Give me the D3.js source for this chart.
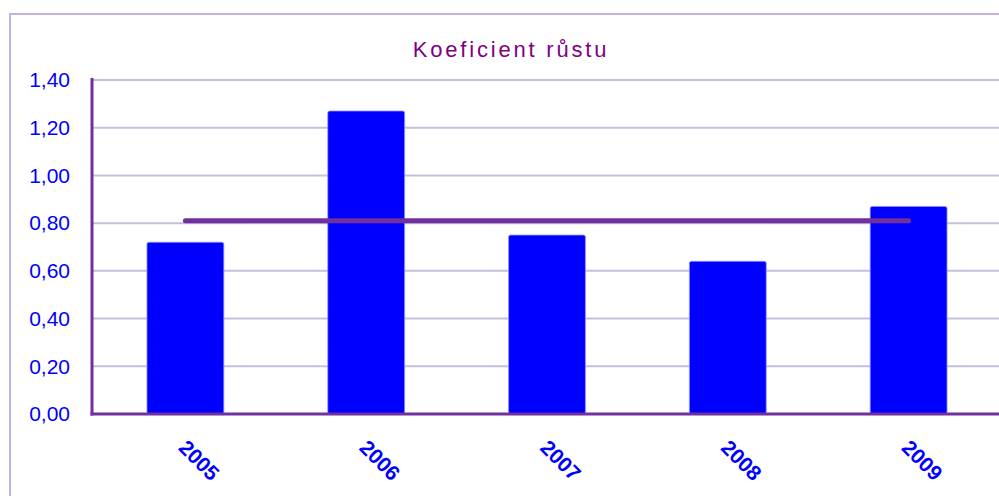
<!DOCTYPE html>
<html>
<head>
<meta charset="utf-8">
<script src="https://cdn.jsdelivr.net/npm/d3@7"></script>
<style>
  body { margin: 0; background: #fff; }
  svg { display: block; font-family: "Liberation Sans", Arial, sans-serif; }
</style>
</head>
<body>
<svg id="chart" width="999" height="496"></svg>
<script>
// data
const years = ['2005', '2006', '2007', '2008', '2009'];
const growth = [0.72, 1.27, 0.75, 0.64, 0.87];
const averageGrowth = 0.81;
const yTicks = [0, 0.2, 0.4, 0.6, 0.8, 1.0, 1.2, 1.4];

const svg = d3.select('#chart');
const plotLeft = 92, plotTop = 80, plotBottom = 414, plotRight = 999;

// outer frame
svg.append('rect')
  .attr('x', 10).attr('y', 14).attr('width', 1010).attr('height', 520)
  .attr('fill', 'none').attr('stroke', '#c3b3d9').attr('stroke-width', 2);

svg.append('text')
  .attr('x', 511).attr('y', 57)
  .attr('text-anchor', 'middle')
  .attr('fill', '#800080')
  .style('font-size', '22px')
  .style('letter-spacing', '2.8px')
  .text('Koeficient růstu');

const x = d3.scaleBand().domain(years).range([plotLeft + 3, plotRight]).paddingInner(0.575).paddingOuter(0.2875);
const xc = d3.scalePoint().domain(years).range([plotLeft + 3, plotRight]).padding(0.5);
const y = d3.scaleLinear().domain([0, 1.4]).range([plotBottom, plotTop]);

// grid
svg.append('g').selectAll('line').data(yTicks.slice(1)).join('line')
  .attr('x1', plotLeft).attr('x2', 999)
  .attr('y1', d => y(d)).attr('y2', d => y(d))
  .attr('stroke', '#c8bedc').attr('stroke-width', 2);

// bars
svg.append('g').selectAll('rect').data(growth).join('rect')
  .attr('x', (d, i) => x(years[i]))
  .attr('y', d => y(d))
  .attr('width', x.bandwidth())
  .attr('height', d => y(0) - y(d))
  .attr('rx', 2)
  .attr('fill', '#0000ff')
  .attr('stroke', '#8f8fff').attr('stroke-width', 0.8);

// average line
svg.append('line')
  .attr('x1', xc(years[0])).attr('x2', xc(years[years.length - 1]))
  .attr('y1', y(averageGrowth)).attr('y2', y(averageGrowth))
  .attr('stroke', '#7030a0').attr('stroke-width', 5).attr('stroke-linecap', 'round');

// y axis
const yAxis = svg.append('g').attr('transform', `translate(${plotLeft},0)`)
  .call(d3.axisLeft(y).tickValues(yTicks).tickSize(0).tickPadding(22)
    .tickFormat(d => d3.format('.2f')(d).replace('.', ',')));
yAxis.select('.domain').remove();
yAxis.selectAll('text').attr('fill', '#0000ff').style('font-size', '21px')
  .attr('font-family', '"Liberation Sans", Arial, sans-serif');
svg.append('line')
  .attr('x1', plotLeft).attr('x2', plotLeft).attr('y1', plotTop - 2).attr('y2', plotBottom + 1.5)
  .attr('stroke', '#7030a0').attr('stroke-width', 3);

// x axis
svg.append('line')
  .attr('x1', plotLeft - 1.5).attr('x2', 999).attr('y1', plotBottom).attr('y2', plotBottom)
  .attr('stroke', '#7030a0').attr('stroke-width', 3);
svg.append('g').selectAll('text').data(years).join('text')
  .attr('transform', d => `translate(${xc(d) - 8},${plotBottom + 35}) rotate(45)`)
  .attr('fill', '#0000ff')
  .style('font-size', '21px').style('font-weight', 'bold')
  .text(d => d);
</script>
</body>
</html>
